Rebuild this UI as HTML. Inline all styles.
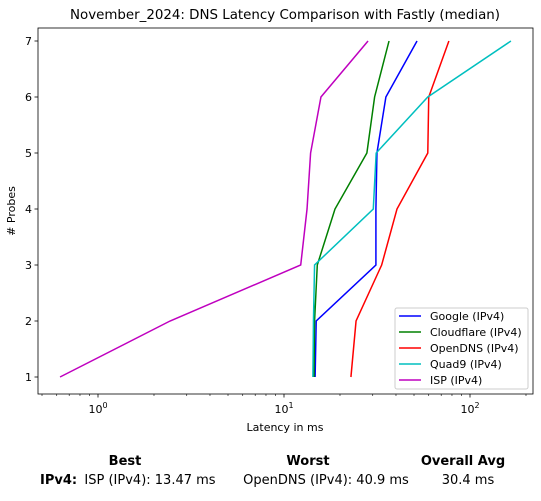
<!DOCTYPE html>
<html><head><meta charset="utf-8"><style>
body{margin:0;background:#fff;font-family:"Liberation Sans","DejaVu Sans",sans-serif}
svg text{font-family:"DejaVu Sans","Liberation Sans",sans-serif}
</style></head><body>
<svg id="chart" width="541" height="496" xmlns="http://www.w3.org/2000/svg">
<rect width="541" height="496" fill="#fff"/>
<text x="285" y="19" font-size="13.4" text-anchor="middle">November_2024: DNS Latency Comparison with Fastly (median)</text>
<g id="plot"></g>
<text x="285" y="431" font-size="11" text-anchor="middle">Latency in ms</text>
<text transform="translate(15,211) rotate(-90)" font-size="11" text-anchor="middle"># Probes</text>
<g font-size="13">
<text x="125" y="465" text-anchor="middle" font-weight="bold">Best</text>
<text x="308" y="465" text-anchor="middle" font-weight="bold">Worst</text>
<text x="463" y="465" text-anchor="middle" font-weight="bold">Overall Avg</text>
<text x="40" y="484" font-weight="bold">IPv4:</text>
<text x="150" y="484" text-anchor="middle">ISP (IPv4): 13.47 ms</text>
<text x="326" y="484" text-anchor="middle">OpenDNS (IPv4): 40.9 ms</text>
<text x="468" y="484" text-anchor="middle">30.4 ms</text>
</g>
</svg>
<script>
const probes=[1,2,3,4,5,6,7];
const seriesNames=["Google (IPv4)","Cloudflare (IPv4)","OpenDNS (IPv4)","Quad9 (IPv4)","ISP (IPv4)"];
const google=[14.7,14.9,31.2,31.2,31.6,35.3,51.9];
const cloudflare=[14.5,14.6,15.1,18.8,27.9,30.7,36.7];
const opendns=[22.9,24.4,33.5,40.5,59.3,60,77];
const quad9=[14.3,14.4,14.6,30.2,31.3,59.3,166];
const isp=[0.625,2.44,12.3,13.3,13.9,15.8,28.3];
const yTicks=[1,2,3,4,5,6,7];
const xDecades=[0,1,2];
const colors=["#0000ff","#008000","#ff0000","#00bfbf","#bf00bf"];
const L=38,R=533,T=28,B=394;
const X=v=>98+186*Math.log10(v);
const Y=v=>377-56*(v-1);
const NS="http://www.w3.org/2000/svg";
const g=document.getElementById('plot');
function mk(t,a){const e=document.createElementNS(NS,t);for(const k in a)e.setAttribute(k,a[k]);g.appendChild(e);return e;}
const frame=mk('rect',{x:L,y:T,width:R-L,height:B-T,fill:'none',stroke:'#000','stroke-width':0.8});


yTicks.forEach(v=>{
 const l=mk('line',{x1:L-3.5,x2:L,y1:Y(v),y2:Y(v),stroke:'#000','stroke-width':0.8});
 
 
 const t=mk('text',{x:L-6,y:Y(v)+4,'font-size':11,'text-anchor':'end'});t.textContent=v;
 
 
});
for(let d=-1;d<=2;d++){for(let m=1;m<10;m++){const v=m*Math.pow(10,d);const x=X(v);if(x<L||x>R)continue;
 const l=mk('line',{x1:x,x2:x,y1:B,y2:B+(m==1?3.5:2),stroke:'#000','stroke-width':m==1?0.8:0.6});
 
 
}}
xDecades.forEach(d=>{
 const t=mk('text',{x:X(Math.pow(10,d)),y:B+19,'font-size':11,'text-anchor':'middle'});
 t.innerHTML='10<tspan font-size="8" dy="-5">'+d+'</tspan>';
 
 
});
[google,cloudflare,opendns,quad9,isp].forEach((s,i)=>{
 const p=mk('polyline',{points:s.map((v,j)=>X(v)+','+Y(probes[j])).join(' '),fill:'none',stroke:colors[i],'stroke-width':1.5});
 
 
});
const lb=mk('rect',{x:395,y:308,width:133,height:81,fill:'#fff',stroke:'#ccc',rx:2});


seriesNames.forEach((n,i)=>{
 const y=316+16*i;
 const l=mk('line',{x1:399,x2:421,y1:y,y2:y,stroke:colors[i],'stroke-width':1.5});
 
 
 const t=mk('text',{x:430,y:y+4,'font-size':11});t.textContent=n;
 
 
});
</script>
</body></html>
